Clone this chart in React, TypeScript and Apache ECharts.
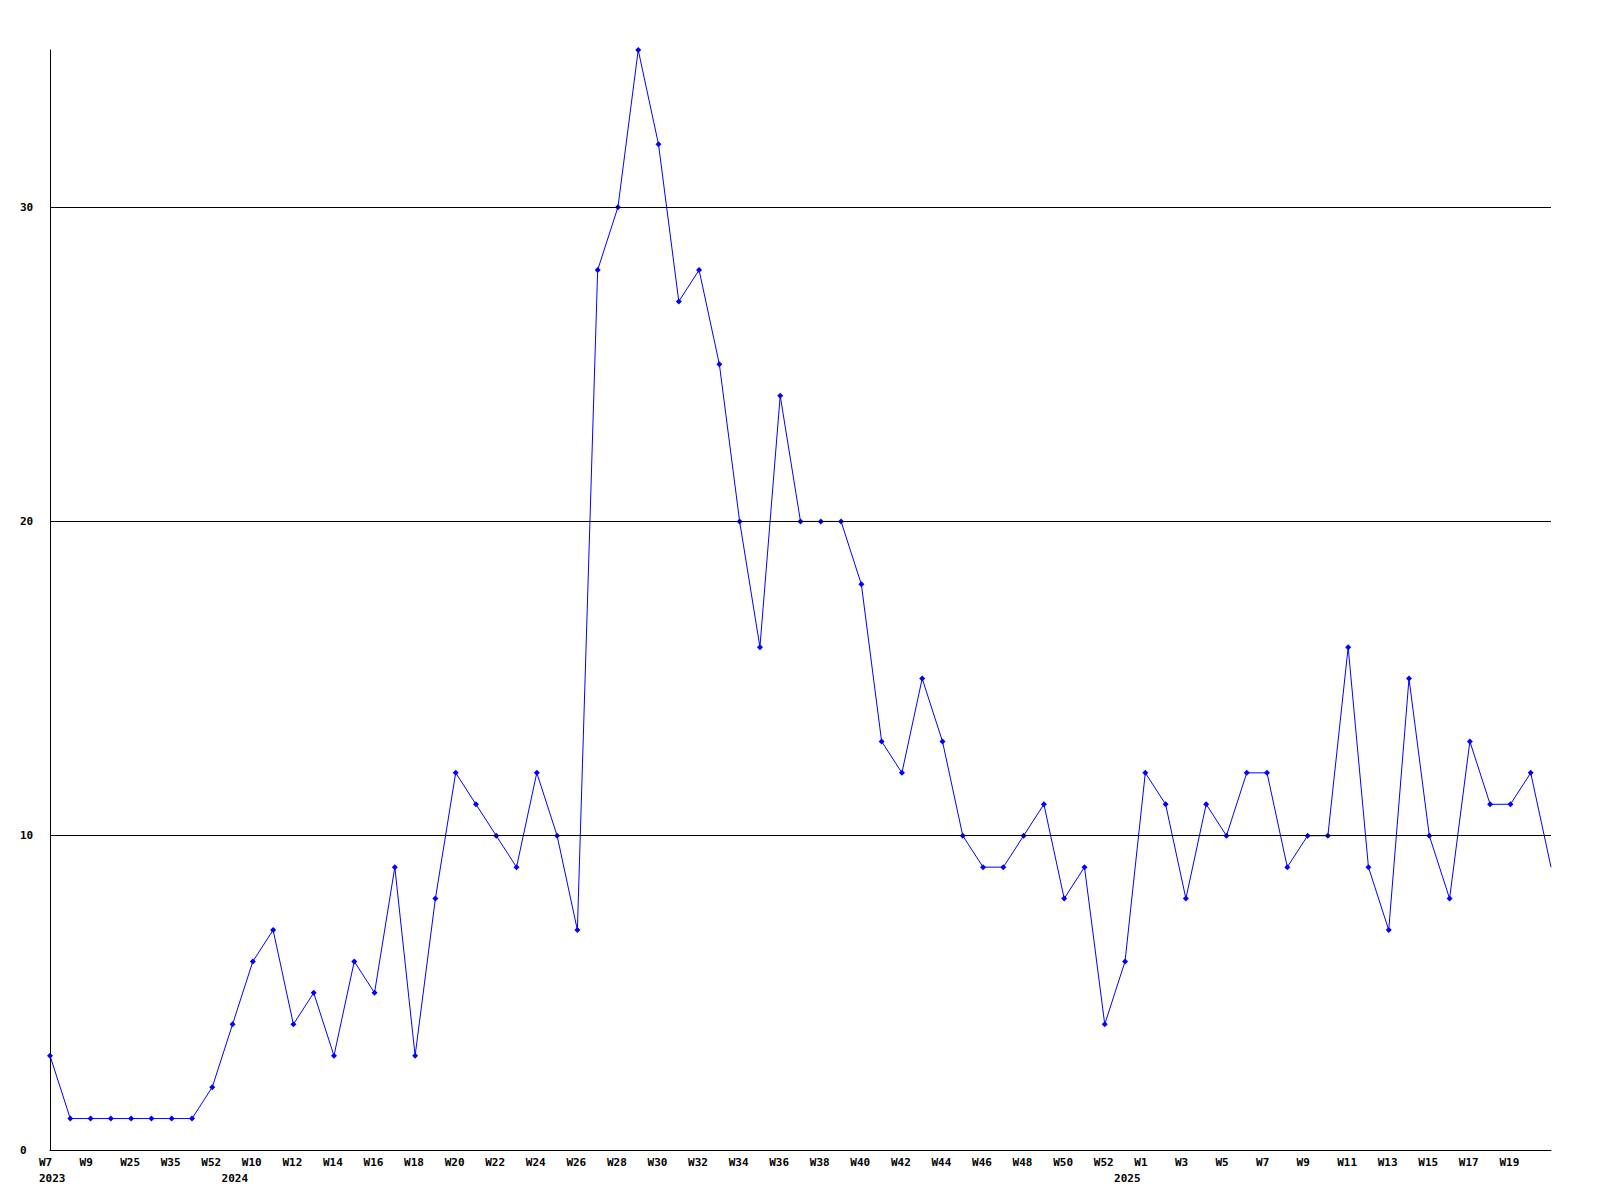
import React, { useEffect, useRef } from "react";
import * as echarts from "echarts";

const weeks: string[] = [
  "W7", "W8", "W9", "W20", "W25", "W30", "W35", "W45", "W52",
  "W9", "W10", "W11", "W12", "W13", "W14", "W15", "W16", "W17", "W18", "W19", "W20",
  "W21", "W22", "W23", "W24", "W25", "W26", "W27", "W28", "W29", "W30", "W31", "W32",
  "W33", "W34", "W35", "W36", "W37", "W38", "W39", "W40", "W41", "W42", "W43", "W44",
  "W45", "W46", "W47", "W48", "W49", "W50", "W51", "W52",
  "W0", "W1", "W2", "W3", "W4", "W5", "W6", "W7", "W8", "W9", "W10", "W11",
  "W12", "W13", "W14", "W15", "W16", "W17", "W18", "W19", "W20", "W21",
];

const years: string[] = [
  ...Array(9).fill("2023"),
  ...Array(44).fill("2024"),
  ...Array(22).fill("2025"),
];

const values: number[] = [
  3, 1, 1, 1, 1, 1, 1, 1, 2,
  4, 6, 7, 4, 5, 3, 6, 5, 9, 3, 8,
  12, 11, 10, 9, 12, 10, 7, 28, 30, 35,
  32, 27, 28, 25, 20, 16, 24, 20, 20, 20,
  18, 13, 12, 15, 13, 10, 9, 9, 10, 11,
  8, 9, 4, 6, 12, 11, 8, 11, 10, 12,
  12, 9, 10, 10, 16, 9, 7, 15, 10, 8,
  13, 11, 11, 12, 9,
];

const gridValues: number[] = [10, 20, 30];

const FONT = "DejaVu Sans Mono";

export default function App() {
  const ref = useRef<HTMLDivElement>(null);
  useEffect(() => {
    document.body.style.margin = "0";
    if (!ref.current) return;
    const chart = echarts.init(ref.current, null, { renderer: "svg" });
    const cats = weeks.map((w, i) => years[i] + "-" + w);
    const last = values.length - 1;
    const data = values.map((v, i) =>
      i === last ? { value: v, symbol: "none" } : v
    );
    chart.setOption({
      animation: false,
      backgroundColor: "#ffffff",
      grid: { left: 50, right: 49, top: 50, bottom: 50, containLabel: false },
      xAxis: {
        type: "category",
        data: cats,
        boundaryGap: false,
        axisLine: { show: true, lineStyle: { color: "#000", width: 1 } },
        axisTick: { show: false },
        splitLine: { show: false },
        axisLabel: {
          interval: 0,
          align: "left",
          padding: [0, 0, 0, -11],
          margin: 4,
          lineHeight: 16,
          fontFamily: FONT,
          fontSize: 11,
          fontWeight: "bold",
          color: "#000",
          formatter: (_v: string, i: number) => {
            const w = i % 2 === 0 && i !== last ? weeks[i] : "";
            const firstOfYear = i === 0 || years[i] !== years[i - 1];
            if (firstOfYear) return w + "\n" + years[i];
            return w;
          },
        },
      },
      yAxis: {
        type: "value",
        min: 0,
        max: 35,
        interval: 10,
        axisLine: { show: true, lineStyle: { color: "#000", width: 1 } },
        axisTick: { show: false },
        splitLine: { show: false },
        axisLabel: {
          showMaxLabel: false,
          align: "left",
          margin: 30,
          fontFamily: FONT,
          fontSize: 11,
          fontWeight: "bold",
          color: "#000",
        },
      },
      series: [
        {
          type: "line",
          data,
          symbol: "diamond",
          symbolSize: 6,
          showSymbol: true,
          itemStyle: { color: "#0000ff" },
          lineStyle: { color: "#0000ff", width: 1 },
          markLine: {
            silent: true,
            symbol: ["none", "none"],
            label: { show: false },
            lineStyle: { color: "#000", type: "solid", width: 1 },
            data: gridValues.map((g) => ({ yAxis: g })),
          },
        },
      ],
    });
    return () => chart.dispose();
  }, []);
  return <div ref={ref} style={{ width: 1600, height: 1200 }} />;
}
